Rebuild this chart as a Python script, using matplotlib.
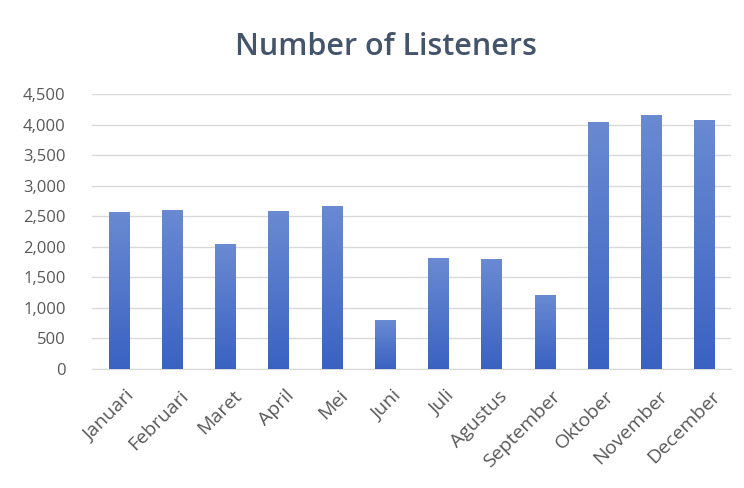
import matplotlib.pyplot as plt
import matplotlib.transforms as mtransforms
import numpy as np
from matplotlib.colors import LinearSegmentedColormap

# Data
bulan = ['Januari', 'Februari', 'Maret', 'April', 'Mei', 'Juni',
         'Juli', 'Agustus', 'September', 'Oktober', 'November', 'December']
pendengar = [2570, 2610, 2040, 2585, 2670, 800,
             1815, 1795, 1215, 4045, 4155, 4075]
y_ticks = [0, 500, 1000, 1500, 2000, 2500, 3000, 3500, 4000, 4500]

plt.rcParams['font.family'] = ['Open Sans', 'DejaVu Sans']

fig = plt.figure(figsize=(7.44, 4.88), dpi=100)
ax = fig.add_axes([92 / 744, 1 - 369 / 488, (731 - 92) / 744, (369 - 94) / 488])

x = np.arange(len(bulan))
barras = ax.bar(x, pendengar, width=0.38, color='none', zorder=3)

# gradiente: mais escuro embaixo, mais claro em cima
cmap = LinearSegmentedColormap.from_list('grad', ['#3A62C2', '#6A8AD2'])
grad = np.linspace(0, 1, 256).reshape(-1, 1)
for b in barras:
    x0, y0 = b.get_x(), b.get_y()
    w, h = b.get_width(), b.get_height()
    im = ax.imshow(grad, cmap=cmap, origin='lower', aspect='auto',
                   extent=[x0, x0 + w, y0, y0 + h], zorder=3)
    im.set_clip_path(b)

ax.set_xlim(-0.5, len(bulan) - 0.5)
ax.set_ylim(0, 4500)
ax.set_yticks(y_ticks)
ax.set_yticklabels([f'{v:,}' for v in y_ticks])
ax.set_xticks(x)
ax.set_xticklabels([])

# rotulos do eixo x, deslocados um pouco para a direita e para baixo
desloc = mtransforms.ScaledTranslation(7 / 100, -18 / 100, fig.dpi_scale_trans)
for xi, nome in zip(x, bulan):
    ax.text(xi, 0, nome, transform=ax.get_xaxis_transform() + desloc,
            rotation=45, ha='right', va='top', rotation_mode='anchor',
            fontsize=14, color='#595959')

ax.grid(axis='y', color='#D9D9D9', linewidth=1, zorder=0)
for s in ['top', 'right', 'left']:
    ax.spines[s].set_visible(False)
ax.spines['bottom'].set_color('#D9D9D9')
ax.tick_params(axis='both', length=0, colors='#595959')
ax.tick_params(axis='y', pad=19, labelsize=12)

fig.text(386 / 744, 1 - 47 / 488, 'Number of Listeners', ha='center', va='center',
         fontsize=22, fontweight='semibold', color='#44546A')

plt.savefig('out.png', dpi=100)
